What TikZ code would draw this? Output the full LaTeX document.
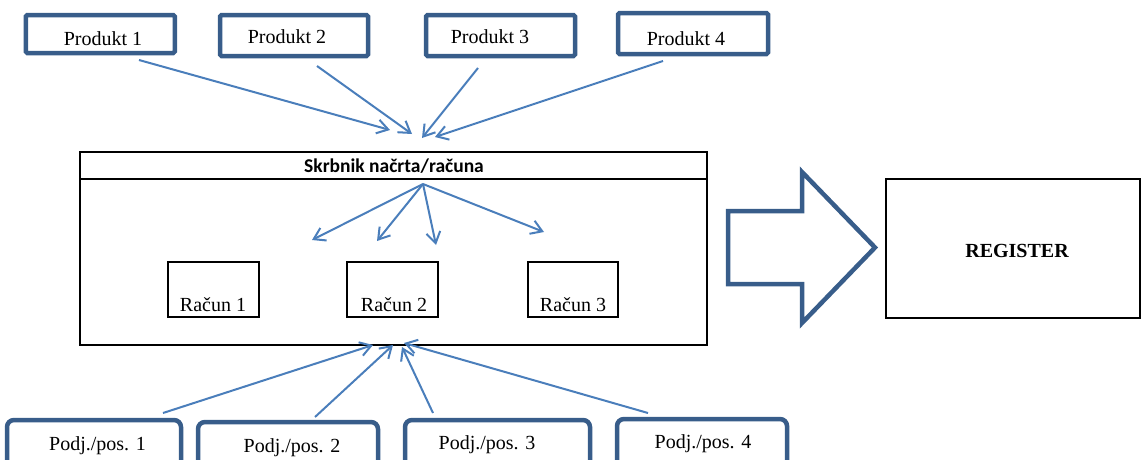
\documentclass[tikz,border=0pt]{standalone}
\usepackage{fontspec}
\setmainfont{Liberation Serif}
\newfontfamily\headfont{Carlito}
\usetikzlibrary{arrows.meta}
\definecolor{boxblue}{RGB}{56,93,138}
\definecolor{linkblue}{RGB}{74,126,187}
\begin{document}
\begin{tikzpicture}[x=1pt,y=-1pt,
  txt/.style={font=\fontsize{20}{24}\selectfont, anchor=base, inner sep=0pt},
  prodbox/.style={draw=boxblue, line width=4.5pt, rounded corners=1.5pt, inner sep=0pt},
  unitbox/.style={draw=boxblue, line width=4.5pt, rounded corners=7pt, inner sep=0pt,
                  minimum height=56pt},
  plainbox/.style={draw=black, line width=2pt, inner sep=0pt},
  link/.style={draw=linkblue, line width=2pt,
               -{Straight Barb[length=11pt,width=14pt]}},
]
\useasboundingbox (0,0) rectangle (1142,459);
\clip (0,0) rectangle (1142,459);

% products along the top
\node[prodbox, minimum width=149pt, minimum height=38pt] (p1) at (100.3,34) {};
\node[prodbox, minimum width=148pt, minimum height=41pt] (p2) at (294,35.5) {};
\node[prodbox, minimum width=149pt, minimum height=41pt] (p3) at (500.5,35.5) {};
\node[prodbox, minimum width=150pt, minimum height=41pt] (p4) at (693,33.5) {};
\node[txt] (p1t) at (103,45) {Produkt 1};
\node[txt] (p2t) at (287,43) {Produkt 2};
\node[txt] (p3t) at (490,43) {Produkt 3};
\node[txt] (p4t) at (686,45) {Produkt 4};

% custodian frame with its header strip
\node[plainbox, minimum width=627pt, minimum height=193pt] (main) at (393.5,248.5) {};
\draw[black, line width=2pt] (main.west |- 0,179) -- (main.east |- 0,179);
\node[font=\headfont\bfseries\fontsize{19.5}{23}\selectfont, anchor=base, inner sep=0pt]
  (head) at (394,172) {Skrbnik načrta/računa};

% accounts inside the frame
\node[plainbox, minimum width=91pt, minimum height=55pt] (r1) at (213.5,289.5) {};
\node[plainbox, minimum width=91pt, minimum height=55pt] (r2) at (392.5,289.5) {};
\node[plainbox, minimum width=90pt, minimum height=55pt] (r3) at (573,289.5) {};
\node[txt] (r1t) at (213,311) {Račun 1};
\node[txt] (r2t) at (394,311) {Račun 2};
\node[txt] (r3t) at (573,311) {Račun 3};

% register
\node[plainbox, minimum width=254pt, minimum height=139pt] (reg) at (1013,248.5) {};
\node[txt, font=\bfseries\fontsize{20}{24}\selectfont] (regt) at (1017,257) {REGISTER};

% hollow block arrow towards the register
\draw[boxblue, line width=4.5pt, line join=miter]
  (728,211) -- (802,211) -- (802,172) -- (875,247.5) -- (802,323) -- (802,284) -- (728,284) -- cycle;

% units along the bottom
\node[unitbox, minimum width=174pt] (u1) at (94,448) {};
\node[unitbox, minimum width=180pt] (u2) at (288,450) {};
\node[unitbox, minimum width=185pt] (u3) at (497.5,448) {};
\node[unitbox, minimum width=170pt] (u4) at (702,447) {};
\node[txt] (u1t) at (97.5,450) {Podj./pos. 1};
\node[txt] (u2t) at (292,452) {Podj./pos. 2};
\node[txt] (u3t) at (487,449) {Podj./pos. 3};
\node[txt] (u4t) at (703,448) {Podj./pos. 4};

% connector end points
\coordinate (a1s) at (139,60);   \coordinate (a1e) at (390,130);
\coordinate (a2s) at (317,66);   \coordinate (a2e) at (412,134);
\coordinate (a3s) at (478,68);   \coordinate (a3e) at (422,138);
\coordinate (a4s) at (663,61);   \coordinate (a4e) at (435,137);
\coordinate (hub) at (423,184);
\coordinate (b1e) at (312,240);  \coordinate (b2e) at (377,241);
\coordinate (b3e) at (436,245);  \coordinate (b4e) at (544,232);
\coordinate (c1s) at (163,413);  \coordinate (c1e) at (373,345);
\coordinate (c2s) at (315,417);  \coordinate (c2e) at (393,345);
\coordinate (c3s) at (433,413);  \coordinate (c3e) at (402,347);
\coordinate (c4s) at (648,413);  \coordinate (c4e) at (404,343);

% products feed the custodian
\draw[link] (a1s) -- (a1e);
\draw[link] (a2s) -- (a2e);
\draw[link] (a3s) -- (a3e);
\draw[link] (a4s) -- (a4e);
% custodian spreads to the accounts
\draw[link] (hub) -- (b1e);
\draw[link] (hub) -- (b2e);
\draw[link] (hub) -- (b3e);
\draw[link] (hub) -- (b4e);
% units report up to the custodian
\draw[link] (c1s) -- (c1e);
\draw[link] (c2s) -- (c2e);
\draw[link] (c3s) -- (c3e);
\draw[link] (c4s) -- (c4e);
\end{tikzpicture}
\end{document}
